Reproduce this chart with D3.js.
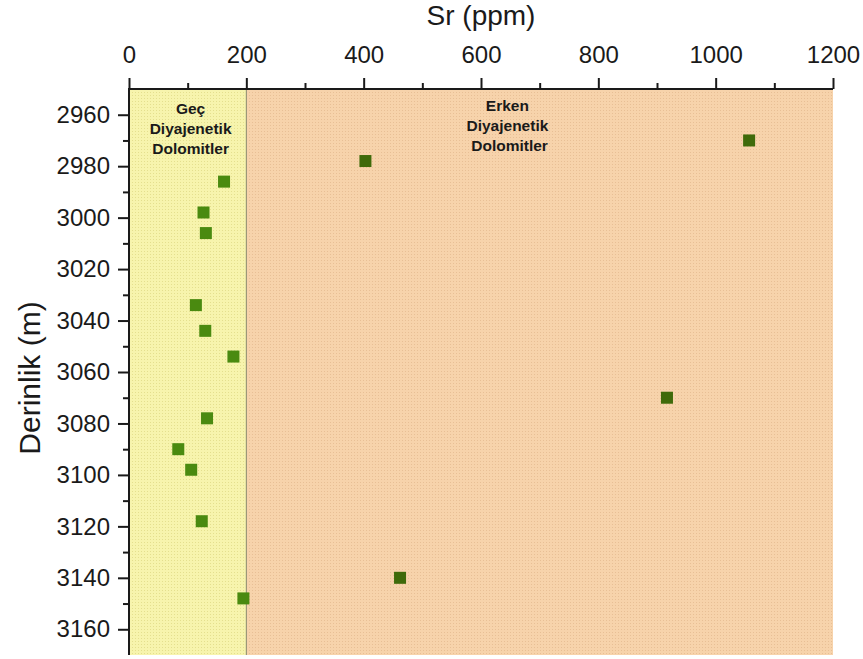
<!DOCTYPE html>
<html>
<head>
<meta charset="utf-8">
<script src="https://cdn.jsdelivr.net/npm/d3@7"></script>
<style>
  body { margin: 0; background: #fff; }
  svg text { font-family: Arial, "Liberation Sans", sans-serif; fill: #1a1a1a; }
</style>
</head>
<body>
<div id="chart"></div>
<script>
// Sr (ppm) readings and their depths (m)
const srValues = [1057, 403, 162, 127, 131, 114, 130, 178, 917, 133, 84, 106, 124, 462, 195];
const depthValues = [2970, 2978, 2986, 2998, 3006, 3034, 3044, 3054, 3070, 3078, 3090, 3098, 3118, 3140, 3148];

// diagenetic zones along the Sr axis
const zoneStart = [0, 200];
const zoneEnd = [200, 1200];
const zoneLabels = [['Geç', 'Diyajenetik', 'Dolomitler'], ['Erken', 'Diyajenetik', ' Dolomitler']];

const xTicks = [0, 200, 400, 600, 800, 1000, 1200];
const yTicks = [2960, 2980, 3000, 3020, 3040, 3060, 3080, 3100, 3120, 3140, 3160];

const W = 863, H = 659;
const margin = { top: 89, right: 30, bottom: 4, left: 129 };
const width = 833 - margin.left;
const height = H - margin.top - margin.bottom;

const svg = d3.select('#chart')
    .append('svg')
    .attr('width', W)
    .attr('height', H);

const defs = svg.append('defs');
const zoneStyles = [
    { base: '#f7f4ad', dot: '#e4df8e', marker: '#4a8a10' },
    { base: '#f7d3ab', dot: '#e8bf95', marker: '#3f6a0a' }
];
zoneStyles.forEach((s, i) => {
    const p = defs.append('pattern')
        .attr('id', 'dots' + i)
        .attr('width', 3)
        .attr('height', 3)
        .attr('patternUnits', 'userSpaceOnUse');
    p.append('rect').attr('width', 3).attr('height', 3).attr('fill', s.base);
    p.append('rect').attr('width', 1).attr('height', 1).attr('fill', s.dot);
});

const g = svg.append('g')
    .attr('transform', `translate(${margin.left},${margin.top})`);

const x = d3.scaleLinear().domain([0, 1200]).range([0, width]);
const y = d3.scaleLinear().domain([2950, 3170]).range([0, height]);

// zone backgrounds
zoneStart.forEach((z, i) => {
    g.append('rect')
        .attr('x', x(z))
        .attr('y', 0)
        .attr('width', x(zoneEnd[i]) - x(z))
        .attr('height', height)
        .attr('fill', 'url(#dots' + i + ')');
});

g.append('line')
    .attr('x1', x(zoneEnd[0])).attr('x2', x(zoneEnd[0]))
    .attr('y1', 0).attr('y2', height)
    .attr('stroke', '#8a8a6c')
    .attr('stroke-width', 1);

// zone labels
const labelCenters = [x(105), x(645)];
const labelTops = [25, 22];
zoneLabels.forEach((lines, i) => {
    const t = g.append('text')
        .attr('text-anchor', 'middle')
        .attr('font-size', 15.5)
        .attr('font-weight', 'bold')
        .attr('xml:space', 'preserve');
    lines.forEach((line, j) => {
        t.append('tspan')
            .attr('x', labelCenters[i])
            .attr('y', labelTops[i] + j * 20)
            .text(line);
    });
});

// axes
const xAxis = g.append('g')
    .call(d3.axisTop(x).tickValues(xTicks).tickSize(11).tickPadding(15).tickFormat(d3.format('d')));
g.append('g')
    .call(d3.axisTop(x).tickValues(d3.range(100, 1200, 200)).tickSize(6).tickFormat(''))
    .select('.domain').remove();

const yAxis = g.append('g')
    .call(d3.axisLeft(y).tickValues(yTicks).tickSize(11).tickPadding(8).tickFormat(d3.format('d')));
g.append('g')
    .call(d3.axisLeft(y).tickValues(d3.range(2970, 3170, 20)).tickSize(6).tickFormat(''))
    .select('.domain').remove();

[xAxis, yAxis].forEach(a => {
    a.selectAll('text').attr('font-size', 24).attr('fill', '#1a1a1a');
    a.select('.domain').attr('stroke', '#1a1a1a').attr('stroke-width', 2);
});
g.selectAll('.tick line').attr('stroke', '#1a1a1a').attr('stroke-width', 2);
xAxis.select('.domain').attr('d', `M0,0H${width}`);
yAxis.select('.domain').attr('d', `M0,-1V${height}`);

// axis titles
svg.append('text')
    .attr('x', margin.left + width / 2)
    .attr('y', 25)
    .attr('text-anchor', 'middle')
    .attr('font-size', 28)
    .text('Sr (ppm)');

svg.append('text')
    .attr('transform', `translate(40,378) rotate(-90)`)
    .attr('text-anchor', 'middle')
    .attr('font-size', 30)
    .text('Derinlik (m)');

// data points
const points = srValues.map((v, i) => ({ sr: v, depth: depthValues[i] }));
g.selectAll('.data-point')
    .data(points)
    .enter()
    .append('rect')
    .attr('class', 'data-point')
    .attr('x', d => x(d.sr) - 6)
    .attr('y', d => y(d.depth) - 6)
    .attr('width', 12)
    .attr('height', 12)
    .attr('fill', d => d.sr <= zoneEnd[0] ? zoneStyles[0].marker : zoneStyles[1].marker);
</script>
</body>
</html>
